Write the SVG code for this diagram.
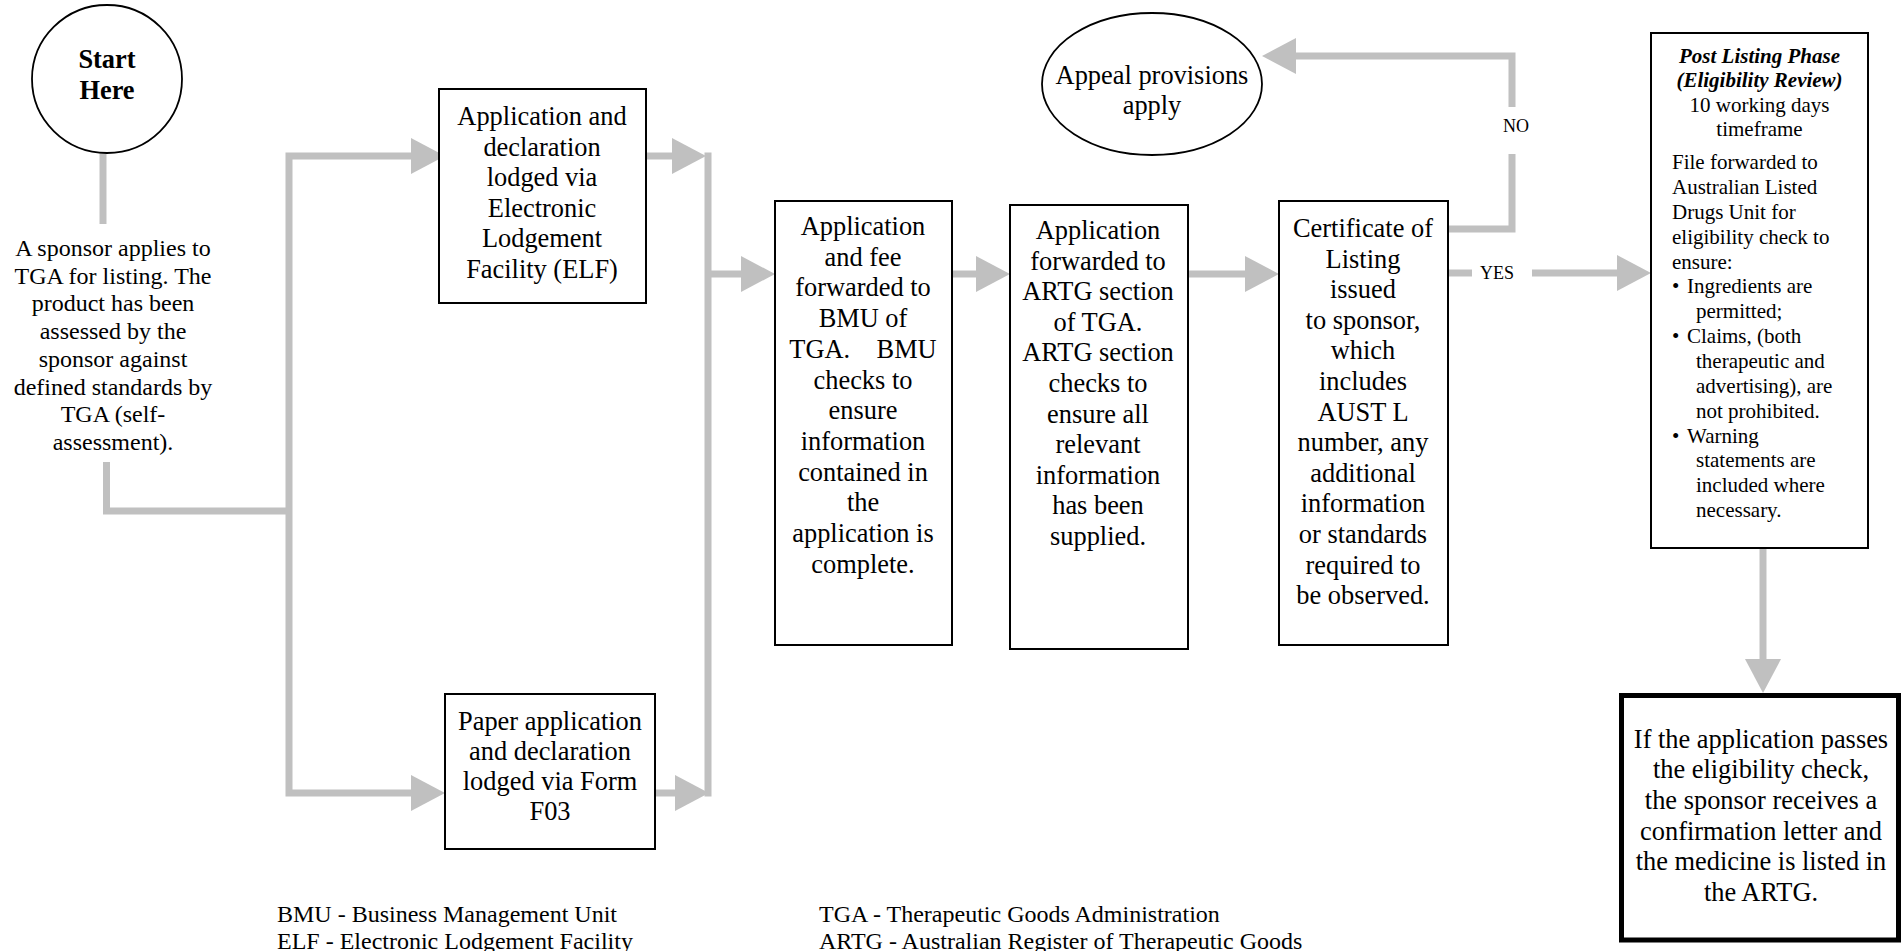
<svg xmlns="http://www.w3.org/2000/svg" width="1904" height="951" viewBox="0 0 1904 951">
<style>
text{font-family:"Liberation Serif","Times New Roman",serif;fill:#000}
.b{font-size:26.4px;text-anchor:middle}
.l{font-size:24px;text-anchor:middle}
.g{font-size:24px}
.p{font-size:21px}
.pc{font-size:21px;text-anchor:middle}
.t{font-size:21px;text-anchor:middle;font-weight:bold;font-style:italic}
.s{font-size:26.4px;text-anchor:middle;font-weight:bold}
.lab{font-size:18px;text-anchor:middle}
.box{fill:#fff;stroke:#000;stroke-width:2}
.conn{fill:none;stroke:#c0c0c0;stroke-width:7;stroke-linejoin:miter}
.arr{marker-end:url(#ah)}
</style>
<defs>
<marker id="ah" markerUnits="userSpaceOnUse" markerWidth="34" markerHeight="36" refX="0" refY="18" orient="auto"><path d="M0,0 L34,18 L0,36 z" fill="#c0c0c0"/></marker>
</defs>
<rect width="1904" height="951" fill="#fff"/>
<g id="connectors">
<path class="conn" d="M103,153 V224"/>
<path class="conn" d="M106.5,462 V511 H289"/>
<path class="conn arr" d="M289,511 V156 H411"/>
<path class="conn arr" d="M289,511 V793 H411"/>
<path class="conn arr" d="M646,156 H672"/>
<path class="conn" d="M708,152.5 V796.5"/>
<path class="conn arr" d="M655,793 H675"/>
<path class="conn arr" d="M708,274 H741"/>
<path class="conn arr" d="M952,274 H976"/>
<path class="conn arr" d="M1188,274 H1245"/>
<path class="conn" d="M1448,229 H1512 V154"/>
<path class="conn arr" d="M1512,107 V56 H1296"/>
<path class="conn" d="M1448,273 H1472"/>
<path class="conn arr" d="M1532,273 H1617"/>
<path class="conn arr" d="M1763,548 V659"/>
<text class="lab" x="1516" y="132">NO</text>
<text class="lab" x="1497" y="279">YES</text>
</g>
<g id="start">
<ellipse cx="107" cy="79" rx="75" ry="74" fill="#fff" stroke="#000" stroke-width="1.8"/>
<text class="s" x="107" y="68">Start</text>
<text class="s" x="107" y="99">Here</text>
</g>
<g id="sponsor">
<text class="l" x="113" y="256">A sponsor applies to</text>
<text class="l" x="113" y="283.7">TGA for listing. The</text>
<text class="l" x="113" y="311.4">product has been</text>
<text class="l" x="113" y="339.1">assessed by the</text>
<text class="l" x="113" y="366.8">sponsor against</text>
<text class="l" x="113" y="394.5">defined standards by</text>
<text class="l" x="113" y="422.2">TGA (self-</text>
<text class="l" x="113" y="449.9">assessment).</text>
</g>
<g id="elf">
<rect class="box" x="439" y="89" width="207" height="214"/>
<text class="b" x="542" y="125">Application and</text>
<text class="b" x="542" y="156">declaration</text>
<text class="b" x="542" y="186">lodged via</text>
<text class="b" x="542" y="217">Electronic</text>
<text class="b" x="542" y="247">Lodgement</text>
<text class="b" x="542" y="278">Facility (ELF)</text>
</g>
<g id="paper">
<rect class="box" x="445" y="694" width="210" height="155"/>
<text class="b" x="550" y="730">Paper application</text>
<text class="b" x="550" y="760">and declaration</text>
<text class="b" x="550" y="790">lodged via Form</text>
<text class="b" x="550" y="820">F03</text>
</g>
<g id="bmu">
<rect class="box" x="775" y="201" width="177" height="444"/>
<text class="b" x="863" y="235">Application</text>
<text class="b" x="863" y="265.7">and fee</text>
<text class="b" x="863" y="296.4">forwarded to</text>
<text class="b" x="863" y="327.1">BMU of</text>
<text class="b" x="863" y="357.8" xml:space="preserve">TGA.    BMU</text>
<text class="b" x="863" y="388.5">checks to</text>
<text class="b" x="863" y="419.2">ensure</text>
<text class="b" x="863" y="449.9">information</text>
<text class="b" x="863" y="480.6">contained in</text>
<text class="b" x="863" y="511.3">the</text>
<text class="b" x="863" y="542">application is</text>
<text class="b" x="863" y="572.7">complete.</text>
</g>
<g id="artg">
<rect class="box" x="1010" y="205" width="178" height="444"/>
<text class="b" x="1098" y="239">Application</text>
<text class="b" x="1098" y="269.6">forwarded to</text>
<text class="b" x="1098" y="300.2">ARTG section</text>
<text class="b" x="1098" y="330.8">of TGA.</text>
<text class="b" x="1098" y="361.4">ARTG section</text>
<text class="b" x="1098" y="392">checks to</text>
<text class="b" x="1098" y="422.6">ensure all</text>
<text class="b" x="1098" y="453.2">relevant</text>
<text class="b" x="1098" y="483.8">information</text>
<text class="b" x="1098" y="514.4">has been</text>
<text class="b" x="1098" y="545">supplied.</text>
</g>
<g id="certificate">
<rect class="box" x="1279" y="201" width="169" height="444"/>
<text class="b" x="1363" y="237">Certificate of</text>
<text class="b" x="1363" y="267.6">Listing</text>
<text class="b" x="1363" y="298.2">issued</text>
<text class="b" x="1363" y="328.8">to sponsor,</text>
<text class="b" x="1363" y="359.4">which</text>
<text class="b" x="1363" y="390">includes</text>
<text class="b" x="1363" y="420.6">AUST L</text>
<text class="b" x="1363" y="451.2">number, any</text>
<text class="b" x="1363" y="481.8">additional</text>
<text class="b" x="1363" y="512.4">information</text>
<text class="b" x="1363" y="543">or standards</text>
<text class="b" x="1363" y="573.6">required to</text>
<text class="b" x="1363" y="604.2">be observed.</text>
</g>
<g id="appeal">
<ellipse cx="1152" cy="84" rx="110" ry="71" fill="#fff" stroke="#000" stroke-width="1.8"/>
<text class="b" x="1152" y="83.5">Appeal provisions</text>
<text class="b" x="1152" y="114">apply</text>
</g>
<g id="postlisting">
<rect class="box" x="1651" y="33" width="217" height="515"/>
<text class="t" x="1759.5" y="63">Post Listing Phase</text>
<text class="t" x="1759.5" y="87">(Eligibility Review)</text>
<text class="pc" x="1759.5" y="111.5">10 working days</text>
<text class="pc" x="1759.5" y="135.5">timeframe</text>
<text class="p" x="1672" y="169">File forwarded to</text>
<text class="p" x="1672" y="193.9">Australian Listed</text>
<text class="p" x="1672" y="218.7">Drugs Unit for</text>
<text class="p" x="1672" y="243.6">eligibility check to</text>
<text class="p" x="1672" y="268.5">ensure:</text>
<text class="p" x="1672" y="293.4">•</text><text class="p" x="1687" y="293.4">Ingredients are</text>
<text class="p" x="1696" y="318.2">permitted;</text>
<text class="p" x="1672" y="343.1">•</text><text class="p" x="1687" y="343.1">Claims, (both</text>
<text class="p" x="1696" y="368">therapeutic and</text>
<text class="p" x="1696" y="392.8">advertising), are</text>
<text class="p" x="1696" y="417.7">not prohibited.</text>
<text class="p" x="1672" y="442.6">•</text><text class="p" x="1687" y="442.6">Warning</text>
<text class="p" x="1696" y="467.4">statements are</text>
<text class="p" x="1696" y="492.3">included where</text>
<text class="p" x="1696" y="517.2">necessary.</text>
</g>
<g id="final">
<rect x="1621.5" y="695.5" width="277" height="244.5" fill="#fff" stroke="#000" stroke-width="5"/>
<text class="b" x="1761" y="747.5">If the application passes</text>
<text class="b" x="1761" y="778.2">the eligibility check,</text>
<text class="b" x="1761" y="808.9">the sponsor receives a</text>
<text class="b" x="1761" y="839.6">confirmation letter and</text>
<text class="b" x="1761" y="870.3">the medicine is listed in</text>
<text class="b" x="1761" y="901">the ARTG.</text>
</g>
<g id="legend">
<text class="g" x="277" y="922">BMU - Business Management Unit</text>
<text class="g" x="277" y="949">ELF - Electronic Lodgement Facility</text>
<text class="g" x="819" y="922">TGA - Therapeutic Goods Administration</text>
<text class="g" x="819" y="949">ARTG - Australian Register of Therapeutic Goods</text>
</g>
</svg>
